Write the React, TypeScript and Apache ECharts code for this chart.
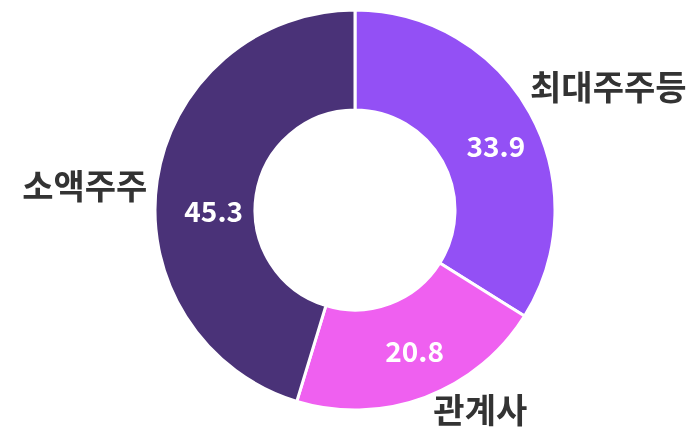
import React, { useEffect, useRef } from "react";
import * as echarts from "echarts";

const categories = ["최대주주등", "관계사", "소액주주"];
const values = [33.9, 20.8, 45.3];
const colors = ["#9350f5", "#ef60f0", "#4a3278"];
// label nudges (px) to follow the reference placement
const innerNudge = [[7, 9], [6, -3], [10, 23]];
const outerNudge = [[-18, -20], [-2, -3], [10, 6]];

export default function App() {
  const ref = useRef<HTMLDivElement>(null);
  useEffect(() => {
    if (!ref.current) return;
    const chart = echarts.init(ref.current, null, { renderer: "svg" });
    const data = categories.map((name, i) => ({ name, value: values[i], itemStyle: { color: colors[i] } }));
    chart.setOption({
      animation: false,
      series: [
        {
          type: "pie",
          center: [355, 210],
          radius: [100, 200],
          startAngle: 90,
          clockwise: true,
          itemStyle: { borderColor: "#ffffff", borderWidth: 3 },
          label: {
            show: true,
            position: "inside",
            formatter: (p: any) => p.value.toFixed(1),
            color: "#ffffff",
            fontSize: 28,
            fontWeight: "bold",
            fontFamily: "Noto Sans CJK KR",
          },
          labelLine: { show: false },
          labelLayout: (p: any) => ({ dx: innerNudge[p.dataIndex][0], dy: innerNudge[p.dataIndex][1] }),
          data,
        },
        {
          type: "pie",
          center: [355, 210],
          radius: [100, 200],
          startAngle: 90,
          clockwise: true,
          silent: true,
          itemStyle: { color: "rgba(0,0,0,0)", borderWidth: 0 },
          label: {
            show: true,
            position: "outside",
            formatter: "{b}",
            color: "#333333",
            fontSize: 34,
            lineHeight: 34,
            fontWeight: "bold",
            fontFamily: "Noto Sans CJK KR",
            overflow: "none",
          },
          labelLine: { show: false, length: 15, length2: 0 },
          labelLayout: (p: any) => ({ dx: outerNudge[p.dataIndex][0], dy: outerNudge[p.dataIndex][1] }),
          data: categories.map((name, i) => ({ name, value: values[i] })),
        },
      ],
    });
    return () => chart.dispose();
  }, []);
  return <div ref={ref} style={{ position: "fixed", left: 0, top: 0, width: 695, height: 435 }} />;
}
